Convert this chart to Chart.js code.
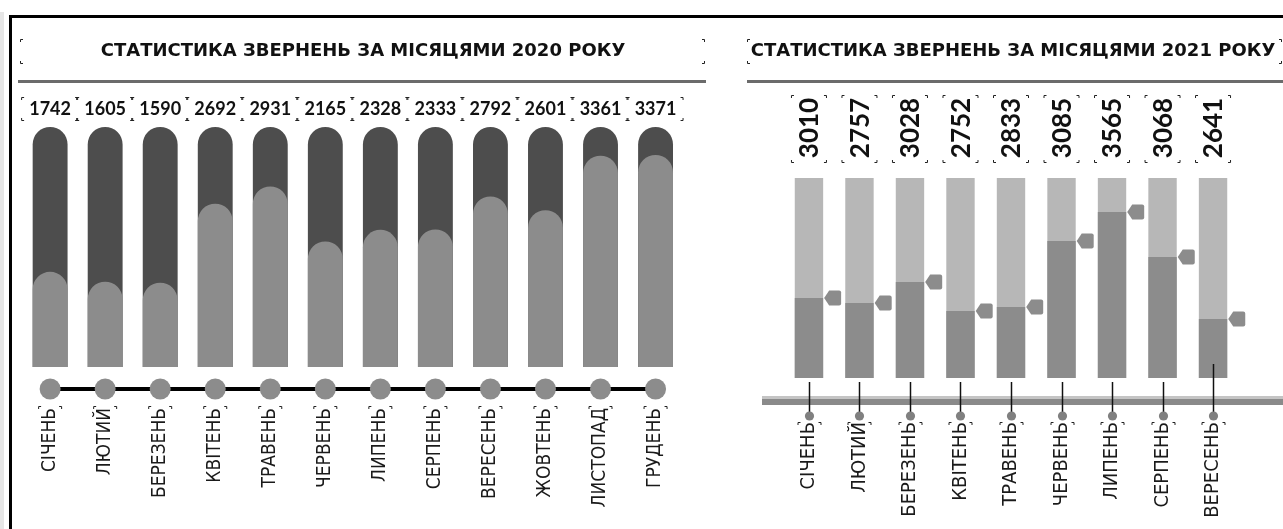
<!DOCTYPE html>
<html>
<head>
<meta charset="utf-8">
<script src="https://cdn.jsdelivr.net/npm/chart.js@4.4.1/dist/chart.umd.min.js"></script>
<style>
html,body{margin:0;padding:0;background:#fff;}
body{width:1283px;height:529px;position:relative;overflow:hidden;}
.strip{position:absolute;left:0;top:12px;width:4px;height:517px;background:#e6e6e6;}
.frameTop{position:absolute;left:9px;top:15px;width:1274px;height:3px;background:#000;}
.frameLeft{position:absolute;left:9px;top:15px;width:3px;height:514px;background:#000;}
#cL{position:absolute;left:0;top:0;}
#cR{position:absolute;left:720px;top:0;}
</style>
</head>
<body>
<div class="strip"></div>
<div class="frameTop"></div>
<div class="frameLeft"></div>
<canvas id="cL" width="720" height="529"></canvas>
<canvas id="cR" width="563" height="529"></canvas>
<script>
// ---------- DATA ----------
const title2020 = 'СТАТИСТИКА ЗВЕРНЕНЬ ЗА МІСЯЦЯМИ 2020 РОКУ';
const title2021 = 'СТАТИСТИКА ЗВЕРНЕНЬ ЗА МІСЯЦЯМИ 2021 РОКУ';
const months2020 = ['СІЧЕНЬ','ЛЮТИЙ','БЕРЕЗЕНЬ','КВІТЕНЬ','ТРАВЕНЬ','ЧЕРВЕНЬ','ЛИПЕНЬ','СЕРПЕНЬ','ВЕРЕСЕНЬ','ЖОВТЕНЬ','ЛИСТОПАД','ГРУДЕНЬ'];
const totals2020 = [1742,1605,1590,2692,2931,2165,2328,2333,2792,2601,3361,3371];
const axisMin2020 = 416;
const axisMax2020 = 3760;
const months2021 = ['СІЧЕНЬ','ЛЮТИЙ','БЕРЕЗЕНЬ','КВІТЕНЬ','ТРАВЕНЬ','ЧЕРВЕНЬ','ЛИПЕНЬ','СЕРПЕНЬ','ВЕРЕСЕНЬ'];
const totals2021 = [3010,2757,3028,2752,2833,3085,3565,3068,2641];
const share2021 = [40,37.5,48,33.5,35.5,68.5,83,60.5,29.5];   // filled part, % of column
const shareMax2021 = 100;

// ---------- STYLE ----------
const TITLE_CSS = "bold 18px 'DejaVu Sans', sans-serif";
const MONTH_FAMILY = "'Liberation Sans Narrow','DejaVu Sans Condensed','Liberation Sans',sans-serif";
const VALUE_FAMILY = "Lato,'DejaVu Sans',sans-serif";

function corners(ctx, x1, y1, x2, y2, len, which) {
  ctx.save();
  ctx.strokeStyle = '#222';
  ctx.lineWidth = 1;
  ctx.beginPath();
  const w = which || 'tlbr';
  if (w.includes('t')) {
    ctx.moveTo(x1+0.5, y1+len); ctx.lineTo(x1+0.5, y1+0.5); ctx.lineTo(x1+len, y1+0.5);
    ctx.moveTo(x2-len, y1+0.5); ctx.lineTo(x2-0.5, y1+0.5); ctx.lineTo(x2-0.5, y1+len);
  }
  if (w.includes('b')) {
    ctx.moveTo(x1+0.5, y2-len); ctx.lineTo(x1+0.5, y2-0.5); ctx.lineTo(x1+len, y2-0.5);
    ctx.moveTo(x2-len, y2-0.5); ctx.lineTo(x2-0.5, y2-0.5); ctx.lineTo(x2-0.5, y2-len);
  }
  ctx.stroke();
  ctx.restore();
}

function drawTitle(ctx, text, cx) {
  ctx.save();
  ctx.fillStyle = '#111';
  ctx.font = TITLE_CSS;
  ctx.textAlign = 'center';
  ctx.textBaseline = 'middle';
  ctx.fillText(text, cx, 51);
  ctx.restore();
}

// ---------- LEFT CHART (2020) ----------
const deco2020 = {
  id:'deco2020',
  afterDraw(chart) {
    const ctx = chart.ctx, xs = chart.scales.x;
    ctx.save();
    drawTitle(ctx, title2020, 363);
    ctx.fillStyle = '#6b6b6b';
    ctx.fillRect(18, 80, 688, 3);
    corners(ctx, 20, 39, 705, 64, 3);
    // values
    ctx.fillStyle = '#111';
    ctx.font = 'bold 18px ' + VALUE_FAMILY;
    ctx.textAlign = 'center';
    ctx.textBaseline = 'middle';
    totals2020.forEach((v, i) => {
      const x = xs.getPixelForValue(i);
      ctx.fillText(String(v), x, 109);
      corners(ctx, x - 29, 97, x + 28, 121, 3);
    });
    // bottom line & dots
    const x0 = xs.getPixelForValue(0), x1 = xs.getPixelForValue(months2020.length - 1);
    ctx.fillStyle = '#000';
    ctx.fillRect(x0, 387, x1 - x0, 4);
    ctx.fillStyle = '#8c8c8c';
    months2020.forEach((m, i) => {
      const x = xs.getPixelForValue(i);
      ctx.beginPath();
      ctx.ellipse(x, 389, 10.5, 10.5, 0, 0, Math.PI * 2);
      ctx.fill();
      corners(ctx, x - 12, 406, x + 12, 430, 3, 't');
    });
    ctx.restore();
  }
};

new Chart(document.getElementById('cL'), {
  type:'bar',
  data:{
    labels: months2020,
    datasets:[
      {label:'2020', data: totals2020, backgroundColor:'#8c8c8c', grouped:false,
       borderRadius:{topLeft:18, topRight:18, bottomLeft:0, bottomRight:0}, borderSkipped:'bottom',
       barPercentage:0.634, categoryPercentage:1},
      {label:'max', data: months2020.map(() => axisMax2020), backgroundColor:'#4d4d4d', grouped:false,
       borderRadius:{topLeft:18, topRight:18, bottomLeft:0, bottomRight:0}, borderSkipped:'bottom',
       barPercentage:0.634, categoryPercentage:1}
    ]
  },
  options:{
    responsive:false, devicePixelRatio:1, animation:false,
    layout:{padding:{left:22.6, right:15.6, top:127, bottom:0}},
    plugins:{legend:{display:false}, tooltip:{enabled:false}, title:{display:false}},
    scales:{
      x:{grid:{display:false, drawTicks:false}, border:{display:false},
         ticks:{minRotation:90, maxRotation:90, autoSkip:false, padding:41, color:'#1a1a1a',
                font:{family:MONTH_FAMILY, size:19}},
         afterFit(s){ s.height = 162; }},
      y:{display:false, min:axisMin2020, max:axisMax2020}
    }
  },
  plugins:[deco2020]
});

// ---------- RIGHT CHART (2021) ----------
const deco2021 = {
  id:'deco2021',
  afterDraw(chart) {
    const ctx = chart.ctx, xs = chart.scales.x, ys = chart.scales.y;
    const meta = chart.getDatasetMeta(0);
    ctx.save();
    drawTitle(ctx, title2021, 293);
    ctx.fillStyle = '#6b6b6b';
    ctx.fillRect(27, 80, 536, 3);
    corners(ctx, 27, 39, 562, 64, 3);
    // rotated values
    ctx.fillStyle = '#111';
    ctx.font = 'bold 26px ' + VALUE_FAMILY;
    ctx.textAlign = 'center';
    ctx.textBaseline = 'middle';
    totals2021.forEach((v, i) => {
      const x = xs.getPixelForValue(i);
      ctx.save();
      ctx.translate(x, 128);
      ctx.rotate(-Math.PI / 2);
      ctx.fillText(String(v), 0, 1);
      ctx.restore();
      corners(ctx, x - 18, 95, x + 18, 163, 3);
    });
    // markers
    ctx.fillStyle = '#8c8c8c';
    meta.data.forEach((bar) => {
      const L = bar.x + bar.width / 2 + 1, y = bar.y;
      ctx.beginPath();
      ctx.moveTo(L, y);
      ctx.lineTo(L + 5, y - 7.5);
      ctx.lineTo(L + 15, y - 7.5);
      ctx.quadraticCurveTo(L + 17, y - 7.5, L + 17, y - 5.5);
      ctx.lineTo(L + 17, y + 5.5);
      ctx.quadraticCurveTo(L + 17, y + 7.5, L + 15, y + 7.5);
      ctx.lineTo(L + 5, y + 7.5);
      ctx.closePath();
      ctx.fill();
    });
    // axis band
    ctx.fillStyle = '#c4c4c4';
    ctx.fillRect(42, 396, 521, 3);
    ctx.fillStyle = '#8a8a8a';
    ctx.fillRect(42, 399, 521, 6);
    // stems and dots
    const base = ys.getPixelForValue(0);
    months2021.forEach((m, i) => {
      const x = Math.round(xs.getPixelForValue(i)) + 0.5;
      const top = (i === months2021.length - 1) ? base - 14 : base + 4;
      ctx.strokeStyle = '#111';
      ctx.lineWidth = 1.5;
      ctx.beginPath();
      ctx.moveTo(x, top);
      ctx.lineTo(x, 414);
      ctx.stroke();
      ctx.fillStyle = '#808080';
      ctx.beginPath();
      ctx.arc(x, 416, 4.6, 0, Math.PI * 2);
      ctx.fill();
      corners(ctx, x - 12, 422, x + 12, 446, 3, 't');
    });
    ctx.restore();
  }
};

new Chart(document.getElementById('cR'), {
  type:'bar',
  data:{
    labels: months2021,
    datasets:[
      {label:'share', data: share2021, backgroundColor:'#8c8c8c', grouped:false,
       barPercentage:0.562, categoryPercentage:1},
      {label:'column', data: months2021.map(() => shareMax2021), backgroundColor:'#b7b7b7', grouped:false,
       barPercentage:0.562, categoryPercentage:1}
    ]
  },
  options:{
    responsive:false, devicePixelRatio:1, animation:false,
    layout:{padding:{left:63.7, right:35.2, top:178, bottom:0}},
    plugins:{legend:{display:false}, tooltip:{enabled:false}, title:{display:false}},
    scales:{
      x:{grid:{display:false, drawTicks:false}, border:{display:false},
         ticks:{minRotation:90, maxRotation:90, autoSkip:false, padding:44, color:'#1a1a1a',
                font:{family:MONTH_FAMILY, size:20}},
         afterFit(s){ s.height = 151; }},
      y:{display:false, min:0, max:shareMax2021}
    }
  },
  plugins:[deco2021]
});
</script>
</body>
</html>
